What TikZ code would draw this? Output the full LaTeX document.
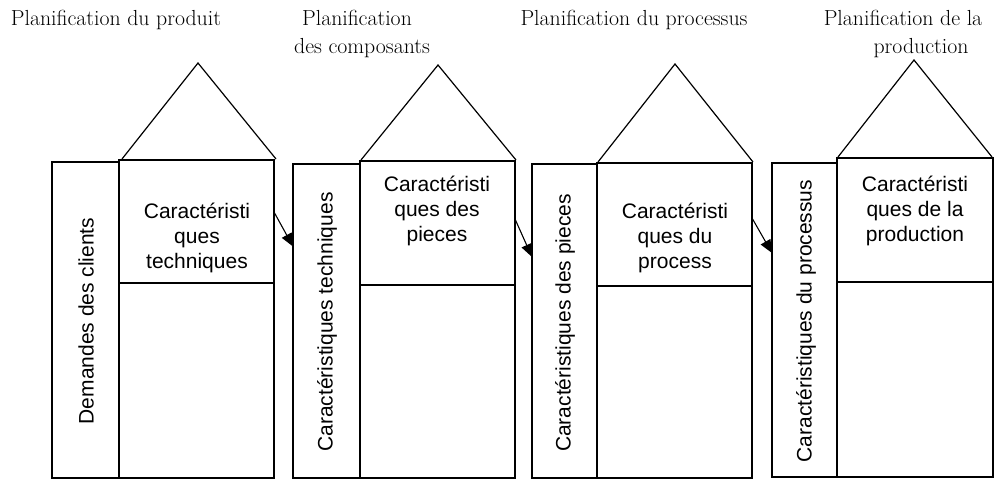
\documentclass[tikz,border=0pt]{standalone}
\usepackage{fontspec}
\setsansfont{Liberation Sans}
\usetikzlibrary{arrows.meta}
\tikzset{
  boxframe/.style={draw, line width=1.7pt, inner sep=0pt, outer sep=0pt},
  roof/.style={draw, line width=1.2pt, line join=miter},
  boxtext/.style={font=\sffamily\fontsize{21}{25}\selectfont, align=center, inner sep=0pt},
  vtext/.style={font=\sffamily\fontsize{21}{25}\selectfont, rotate=90, inner sep=0pt},
  toplabel/.style={font=\fontsize{21.8}{28}\selectfont, anchor=base, inner sep=0pt},
  flow/.style={draw, line width=1.1pt, -{Triangle[length=13pt,width=11pt]}}
}
\newcommand{\rectnode}[6]{% name, x1, y1, x2, y2, style
  \node[boxframe, minimum width=#4pt-#2pt, minimum height=#5pt-#3pt] (#1) at ({(#2+#4)/2},{(#3+#5)/2}) {};}
\begin{document}
\begin{tikzpicture}[x=1pt,y=-1pt]
\useasboundingbox (0,0) rectangle (999,479);
% group 1
\rectnode{L1}{52}{162}{119}{478}{}
\rectnode{T1}{119}{160}{274}{283}{}
\rectnode{B1}{119}{283}{274}{478}{}
\draw[roof] (122,159) -- (198,63) -- (276,159);
% group 2
\rectnode{L2}{293}{164}{360}{478}{}
\rectnode{T2}{360}{161}{515}{285}{}
\rectnode{B2}{360}{285}{515}{478}{}
\draw[roof] (361,160) -- (438,65) -- (516,160);
% group 3
\rectnode{L3}{532}{164}{597}{478}{}
\rectnode{T3}{597}{163}{752}{286}{}
\rectnode{B3}{597}{286}{752}{478}{}
\draw[roof] (598,162) -- (675,64) -- (753,162);
% group 4
\rectnode{L4}{772}{163}{837}{477}{}
\rectnode{T4}{837}{158}{993}{282}{}
\rectnode{B4}{837}{282}{993}{477}{}
\draw[roof] (838,157) -- (914,60) -- (992,157);
% texts in boxes
\node[boxtext] (t1) at (197,238) {Caractéristi\\ques\\techniques};
\node[boxtext] (t2) at (437,211) {Caractéristi\\ques des\\pieces};
\node[boxtext] (t3) at (675,238) {Caractéristi\\ques du\\process};
\node[boxtext] (t4) at (915,211) {Caractéristi\\ques de la\\production};
% vertical texts
\node[vtext] (v1) at (86,321) {Demandes des clients};
\node[vtext] (v2) at (327,322) {Caractéristiques techniques};
\node[vtext] (v3) at (565,323) {Caractéristiques des pieces};
\node[vtext] (v4) at (806,321) {Caractéristiques du processus};
% top labels
\node[toplabel] (p1) at (116,25) {Planification du produit};
\node[toplabel] (p2a) at (357,25) {Planification};
\node[toplabel] (p2b) at (362,53) {des composants};
\node[toplabel] (p3) at (634,25) {Planification du processus};
\node[toplabel] (p4a) at (903,25) {Planification de la};
\node[toplabel] (p4b) at (921,53) {production};
% connectors
\draw[flow] ([yshift=9.5pt]T1.east) -- ([yshift=74.5pt]L2.west);
\draw[flow] ([yshift=4pt]T2.east) -- ([yshift=64pt]L3.west);
\draw[flow] ([yshift=6.5pt]T3.east) -- ([yshift=67pt]L4.west);
\end{tikzpicture}
\end{document}
